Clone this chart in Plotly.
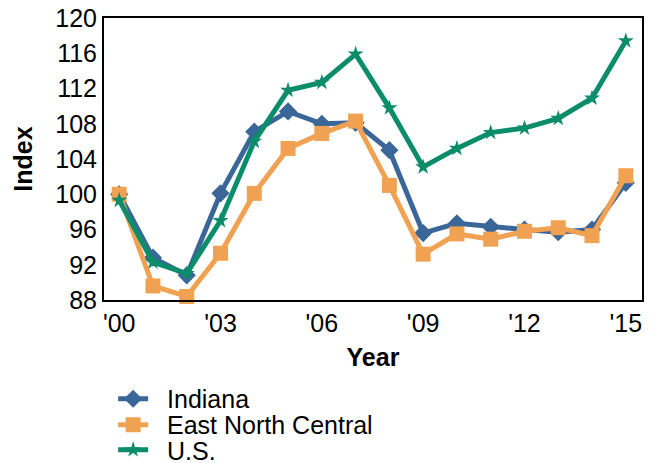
import plotly.graph_objects as go

years = list(range(2000, 2016))
tick_vals = [2000, 2003, 2006, 2009, 2012, 2015]
tick_text = ["'00", "'03", "'06", "'09", "'12", "'15"]

indiana = [100.0, 92.8, 90.8, 100.1, 107.1, 109.4, 108.0, 108.1, 105.0, 95.6,
           96.7, 96.3, 96.0, 95.7, 96.0, 101.3]
east_north_central = [100.0, 89.6, 88.4, 93.3, 100.1, 105.2, 106.9, 108.3, 101.0, 93.2,
                      95.5, 94.9, 95.8, 96.2, 95.3, 102.1]
us = [99.3, 92.3, 91.0, 97.0, 106.0, 111.8, 112.7, 115.9, 109.8, 103.1,
      105.2, 107.0, 107.5, 108.6, 110.9, 117.4]

# name, values, colour, marker, marker size, legend id
series = [
    ("Indiana", indiana, "#3b6698", "diamond", 14, "legend"),
    ("East North Central", east_north_central, "#f0a252", "square", 15, "legend2"),
    ("U.S.", us, "#0b8c6a", "star", 12, "legend3"),
]

fig = go.Figure()
for name, vals, color, symbol, size, leg in series:
    fig.add_trace(go.Scatter(
        x=years, y=vals, name="\u00a0\u00a0" + name, mode="lines+markers",
        line=dict(color=color, width=5),
        marker=dict(symbol=symbol, size=size, color=color),
        cliponaxis=False, legend=leg,
    ))

font = "Liberation Sans, Arial, sans-serif"
leg_style = dict(x=0.017, xanchor="left", yanchor="middle",
                 font=dict(size=25), bgcolor="rgba(0,0,0,0)", borderwidth=0)
fig.update_layout(
    template=None,
    width=656, height=463,
    margin=dict(l=104, r=14, t=18, b=163, autoexpand=False),
    paper_bgcolor="white", plot_bgcolor="white",
    font=dict(family=font, size=25, color="black"),
    showlegend=True,
    legend=dict(y=-0.351, **leg_style),
    legend2=dict(y=-0.443, **leg_style),
    legend3=dict(y=-0.532, **leg_style),
)
fig.update_xaxes(
    range=[1999.55, 2015.48], tickvals=tick_vals, ticktext=tick_text,
    showgrid=False, zeroline=False, ticks="", showline=True, linecolor="black",
    linewidth=2, mirror=True, tickfont=dict(size=25),
    title=dict(text="<b>Year</b>", font=dict(size=25), standoff=12),
)
fig.update_yaxes(
    range=[88, 120], tickvals=list(range(88, 121, 4)),
    showgrid=False, zeroline=False, ticks="", showline=True, linecolor="black",
    linewidth=2, mirror=True, tickfont=dict(size=25),
    title=dict(text="<b>Index</b>", font=dict(size=25), standoff=16),
)

fig.write_html("out.html", config={"displayModeBar": False},
               post_script="document.body.style.margin='0px';")
